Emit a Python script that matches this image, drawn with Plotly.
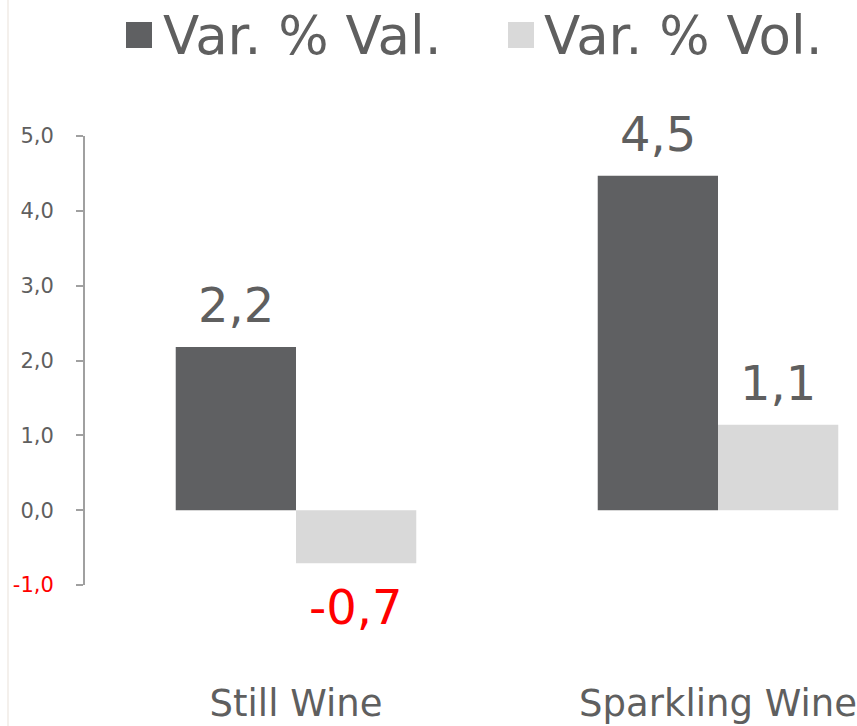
import plotly.graph_objects as go

categories = ["Still Wine", "Sparkling Wine"]
val_change = [2.18, 4.47]
vol_change = [-0.71, 1.14]
series_names = ["Var. % Val.", "Var. % Vol."]
tick_values = [-1, 0, 1, 2, 3, 4, 5]

DARK = "#5f6062"
LIGHT = "#d9d9d9"
TEXT = "#5f5f5f"
RED = "#ff0000"
FONT = "DejaVu Sans, Verdana, sans-serif"

# plot area in pixels
L, R, T, B = 85, 0, 136, 141
PW, PH = 857 - L - R, 726 - T - B


def fmt(v):
    return f"{v:.1f}".replace(".", ",")


def px(x):
    return (x - L) / PW


def py(y):
    return (726 - B - y) / PH


fig = go.Figure()
for name, values, color, offset in [
    (series_names[0], val_change, DARK, -60),
    (series_names[1], vol_change, LIGHT, 60),
]:
    fig.add_trace(go.Bar(x=categories, y=values, name=name, marker_color=color,
                         marker_line_width=0, showlegend=False))
    for cat, v in zip(categories, values):
        fig.add_annotation(
            x=cat, y=v, xshift=offset, text=fmt(v), showarrow=False,
            yanchor="bottom" if v >= 0 else "top",
            yshift=12 if v >= 0 else -14,
            font=dict(family=FONT, size=48, color=TEXT if v >= 0 else RED),
        )

# legend drawn by hand to get the large square swatches
for name, color, x0, tx in [(series_names[0], DARK, 126, 161), (series_names[1], LIGHT, 508, 542)]:
    fig.add_shape(type="rect", xref="paper", yref="paper",
                  x0=px(x0), x1=px(x0 + 26), y0=py(48), y1=py(22),
                  fillcolor=color, line_width=0)
    fig.add_annotation(xref="paper", yref="paper", x=px(tx), y=py(35),
                       xanchor="left", yanchor="middle", text=name, showarrow=False,
                       font=dict(family=FONT, size=53, color=TEXT))

# faint frame edge on the left
fig.add_shape(type="line", xref="paper", yref="paper", x0=px(8), x1=px(8),
              y0=py(726), y1=py(0), line=dict(color="#f4f0ec", width=2))

tick_text = [fmt(t) if t >= 0 else f"<span style='color:{RED}'>{fmt(t)}</span>" for t in tick_values]

fig.update_layout(
    width=857, height=726,
    margin=dict(l=L, r=R, t=T, b=B),
    paper_bgcolor="white", plot_bgcolor="white",
    barmode="group", bargap=0.43, bargroupgap=0,
    showlegend=False,
)
fig.update_yaxes(
    range=[-1, 5], tickvals=tick_values, ticktext=tick_text, automargin=False,
    showgrid=False, zeroline=False, showline=True, linecolor="#a0a0a0", linewidth=2,
    ticks="outside", ticklen=7, tickcolor="#a0a0a0", tickwidth=2,
    ticklabelstandoff=18,
    tickfont=dict(family=FONT, size=21, color=TEXT),
)
fig.update_xaxes(
    range=[-0.5, -0.5 + PW / 422], automargin=False,
    showgrid=False, zeroline=False, showline=False, ticks="",
    ticklabelstandoff=93,
    tickfont=dict(family=FONT, size=37, color=TEXT),
)

fig.write_html("out.html", config={"displayModeBar": False},
               post_script="document.body.style.margin='0';")
